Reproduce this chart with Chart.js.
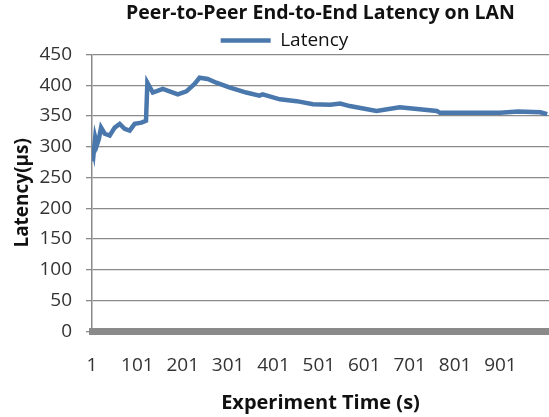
<!DOCTYPE html>
<html>
<head>
<meta charset="utf-8">
<script src="https://cdn.jsdelivr.net/npm/chart.js@4"></script>
<style>
    html, body { margin: 0; padding: 0; background: #ffffff; }
    #wrap { width: 549px; height: 417px; }
</style>
</head>
<body>
<div id="wrap"><canvas id="graficoLatencia" width="549" height="417"></canvas></div>
<script>
// dados (tempo em s, latência em µs)
const tempo = [1, 3, 5, 8, 12, 16, 21, 29, 40, 51, 62, 73, 84, 95, 110, 120, 123, 135, 157, 172, 190, 209, 227, 238, 256, 275, 305, 341, 370, 377, 415, 452, 488, 526, 548, 569, 628, 679, 761, 768, 900, 940, 989, 1004];
const latencia = [280, 300, 292, 315, 303, 312, 331, 321, 318, 331, 337, 329, 326, 337, 339, 342, 404, 388, 394, 390, 385, 390, 402, 412, 410, 404, 396, 388, 383, 385, 377, 374, 369, 368, 370, 366, 358, 364, 358, 355, 355, 357, 356, 353];
const ticksX = [1, 101, 201, 301, 401, 501, 601, 701, 801, 901];

const fonte = "'Open Sans', sans-serif";
const azul = "#4a78ad";
const cinza = "#8a8a8a";

montarGrafico();

function montarGrafico()
{
    const ctx = document.getElementById("graficoLatencia").getContext("2d");
    const pontos = tempo.map((t, i) => ({ x: t, y: latencia[i] }));

    new Chart(ctx, {
        type: "line",
        data: {
            datasets: [{
                label: "Latency",
                data: pontos,
                borderColor: azul,
                backgroundColor: azul,
                borderWidth: 4.5,
                pointRadius: 0,
                tension: 0
            }]
        },
        options: {
            responsive: false,
            animation: false,
            layout: { padding: { left: 20, right: 0, top: 0, bottom: 2 } },
            plugins: {
                title: {
                    display: true,
                    text: "Peer-to-Peer End-to-End Latency on LAN",
                    fullSize: false,
                    color: "#111111",
                    font: { family: fonte, size: 19.5, weight: "bold" },
                    padding: { top: 2, bottom: 5.5 }
                },
                legend: {
                    display: true,
                    maxHeight: 23.5,
                    labels: {
                        usePointStyle: true,
                        pointStyle: "line",
                        pointStyleWidth: 50,
                        color: "#111111",
                        font: { family: fonte, size: 19 },
                        padding: 0
                    }
                },
                tooltip: { enabled: false }
            },
            scales: {
                x: {
                    type: "linear",
                    min: 1,
                    max: 1008,
                    afterBuildTicks: (scale) => { scale.ticks = ticksX.map(v => ({ value: v })); },
                    grid: { display: false },
                    border: { display: true, color: cinza, width: 7 },
                    ticks: {
                        color: "#333333",
                        font: { family: fonte, size: 19 },
                        padding: 15,
                        maxRotation: 0,
                        autoSkip: false
                    },
                    title: {
                        display: true,
                        text: "Experiment Time (s)",
                        color: "#111111",
                        font: { family: fonte, size: 20, weight: "bold" },
                        padding: { top: -1, bottom: 0 }
                    }
                },
                y: {
                    min: 0,
                    max: 450,
                    afterFit: (scale) => { scale.width = 72; },
                    ticks: {
                        stepSize: 50,
                        color: "#333333",
                        font: { family: fonte, size: 19 },
                        padding: 14
                    },
                    grid: { color: cinza, lineWidth: 1.3, tickLength: 6 },
                    border: { display: true, color: cinza, width: 1.5 },
                    title: {
                        display: true,
                        text: "Latency(µs)",
                        color: "#111111",
                        font: { family: fonte, size: 19, weight: "bold" },
                        padding: { top: -9, bottom: 0 }
                    }
                }
            }
        }
    });
}
</script>
</body>
</html>
